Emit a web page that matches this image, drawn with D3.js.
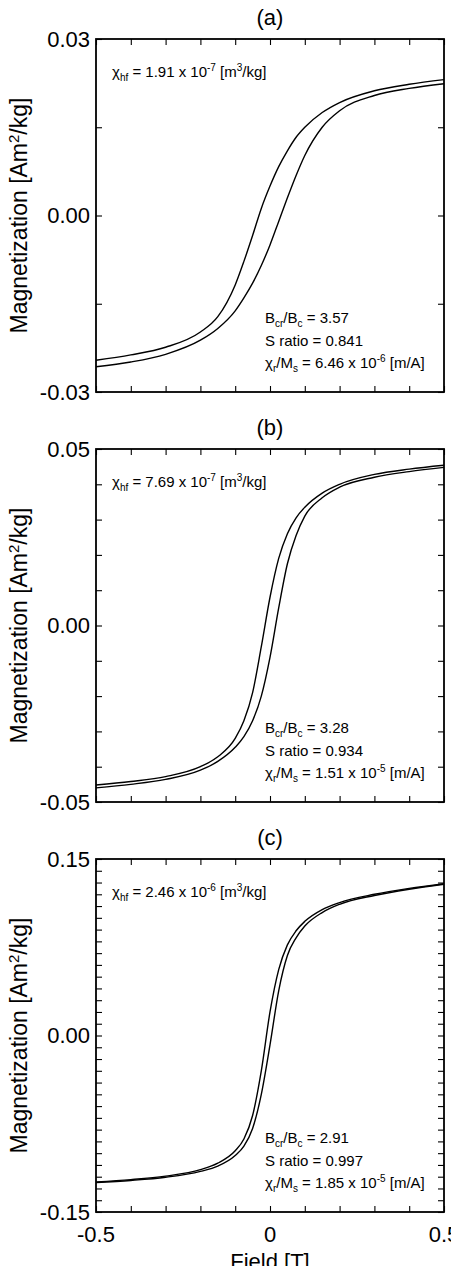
<!DOCTYPE html>
<html>
<head>
<meta charset="utf-8">
<script src="https://cdn.jsdelivr.net/npm/d3@7"></script>
<style>
  html, body { margin: 0; padding: 0; background: #fff; }
  svg { display: block; font-family: "Liberation Sans", Arial, Helvetica, sans-serif; }
</style>
</head>
<body>
<svg id="chart" width="451" height="1266"></svg>
<script>
// ---------------- data ----------------
const fields = [-0.5, -0.4, -0.3, -0.2, -0.15, -0.1, -0.075, -0.05, -0.025, 0, 0.025, 0.05, 0.075, 0.1, 0.15, 0.2, 0.3, 0.4, 0.5];

// panel (a)
const descA = [-0.0246, -0.0237, -0.0224, -0.0198, -0.0172, -0.0118, -0.0078, -0.0034, 0.0012, 0.0050, 0.0083, 0.0110, 0.0133, 0.0150, 0.0175, 0.0192, 0.0212, 0.0223, 0.0231];
const ascA  = [-0.0257, -0.0249, -0.0236, -0.0212, -0.0192, -0.0162, -0.0140, -0.0115, -0.0085, -0.0050, -0.0010, 0.0030, 0.0068, 0.0102, 0.0150, 0.0178, 0.0204, 0.0216, 0.0224];
// panel (b)
const descB = [-0.0452, -0.0442, -0.0428, -0.0400, -0.0372, -0.0320, -0.0270, -0.0190, -0.0060, 0.0080, 0.0190, 0.0260, 0.0305, 0.0335, 0.0375, 0.0400, 0.0428, 0.0443, 0.0454];
const ascB  = [-0.0460, -0.0450, -0.0436, -0.0410, -0.0385, -0.0345, -0.0315, -0.0270, -0.0200, -0.0090, 0.0050, 0.0175, 0.0255, 0.0310, 0.0362, 0.0392, 0.0420, 0.0436, 0.0448];
// panel (c)
const descC = [-0.1245, -0.1225, -0.1195, -0.1140, -0.1085, -0.0980, -0.0880, -0.0680, -0.0300, 0.0200, 0.0560, 0.0770, 0.0890, 0.0970, 0.1070, 0.1130, 0.1200, 0.1250, 0.1290];
const ascC  = [-0.1250, -0.1232, -0.1205, -0.1155, -0.1110, -0.1020, -0.0940, -0.0790, -0.0500, -0.0080, 0.0380, 0.0680, 0.0830, 0.0930, 0.1045, 0.1115, 0.1190, 0.1243, 0.1285];

const panelTitles = ["(a)", "(b)", "(c)"];
const yDomains = [[-0.03, 0.03], [-0.05, 0.05], [-0.15, 0.15]];
const yTickSteps = [0.015, 0.01, 0.01];
const yTickLabels = [["0.03", "0.00", "-0.03"], ["0.05", "0.00", "-0.05"], ["0.15", "0.00", "-0.15"]];
const xDomain = [-0.5, 0.5];
const xTickStep = 0.1;
const xTickLabels = ["-0.5", "0", "0.5"];

const chiHf = ["1.91", "7.69", "2.46"];
const chiHfExp = ["-7", "-7", "-6"];
const bcrBc = ["3.57", "3.28", "2.91"];
const sRatio = ["0.841", "0.934", "0.997"];
const chiRMs = ["6.46", "1.51", "1.85"];
const chiRMsExp = ["-6", "-5", "-5"];

const yLabel = "Magnetization [Am";
const xLabel = "Field [T]";

// ---------------- layout ----------------
const svg = d3.select("#chart");
const left = 96, right = 444;
const tops = [39, 449, 859];
const ph = 353;
const series = [[descA, ascA], [descB, ascB], [descC, ascC]];
const bigFs = 22;

const x = d3.scaleLinear().domain(xDomain).range([left, right]);
const xTicks = d3.range(xDomain[0], xDomain[1] + 1e-9, xTickStep).map(v => +v.toFixed(3));

panelTitles.forEach((title, i) => {
  const top = tops[i], bottom = top + ph;
  const y = d3.scaleLinear().domain(yDomains[i]).range([bottom, top]);
  const [y0, y1] = yDomains[i];
  const yTicks = d3.range(y0, y1 + 1e-9, yTickSteps[i]).map(v => +v.toFixed(4));
  const g = svg.append("g");

  // ticks (inward) on all four sides
  const tick = 6;
  g.append("g").attr("transform", `translate(${left},0)`)
    .call(d3.axisLeft(y).tickValues(yTicks).tickSize(-tick).tickFormat(""))
    .call(a => a.select(".domain").remove());
  g.append("g").attr("transform", `translate(${right},0)`)
    .call(d3.axisRight(y).tickValues(yTicks).tickSize(-tick).tickFormat(""))
    .call(a => a.select(".domain").remove());
  g.append("g").attr("transform", `translate(0,${bottom})`)
    .call(d3.axisBottom(x).tickValues(xTicks).tickSize(-tick).tickFormat(""))
    .call(a => a.select(".domain").remove());
  g.append("g").attr("transform", `translate(0,${top})`)
    .call(d3.axisTop(x).tickValues(xTicks).tickSize(-tick).tickFormat(""))
    .call(a => a.select(".domain").remove());
  g.selectAll(".tick line").attr("stroke", "#000").attr("stroke-width", 1.1);

  // frame
  g.append("rect").attr("x", left).attr("y", top).attr("width", right - left).attr("height", ph)
    .attr("fill", "none").attr("stroke", "#000").attr("stroke-width", 1.8);

  // y tick labels
  const labVals = [y1, 0, y0];
  labVals.forEach((v, k) => {
    g.append("text").attr("x", left - 6).attr("y", y(v)).attr("dy", "0.36em")
      .attr("text-anchor", "end").attr("font-size", bigFs).text(yTickLabels[i][k]);
  });

  // title
  g.append("text").attr("x", (left + right) / 2).attr("y", top - 14)
    .attr("text-anchor", "middle").attr("font-size", bigFs).text(title);

  // y label
  const yl = g.append("text").attr("transform", `translate(27,${(top + bottom) / 2}) rotate(-90)`)
    .attr("text-anchor", "middle").attr("font-size", 23);
  yl.append("tspan").text(yLabel);
  yl.append("tspan").attr("font-size", 15).attr("dy", -8).text("2");
  yl.append("tspan").attr("dy", 8).text("/kg]");

  // curves
  const line = d3.line().x((d, k) => x(fields[k])).y(d => y(d)).curve(d3.curveMonotoneX);
  series[i].forEach(s => {
    g.append("path").datum(s).attr("d", line).attr("fill", "none")
      .attr("stroke", "#000").attr("stroke-width", 1.4);
  });

  // top-left annotation
  const fs = 15, sfs = 10;
  const t1 = g.append("text").attr("x", 112).attr("y", top + 38).attr("font-size", fs);
  t1.append("tspan").text("\u03C7");
  t1.append("tspan").attr("font-size", sfs).attr("dy", 3.5).text("hf");
  t1.append("tspan").attr("dy", -3.5).text(" = " + chiHf[i] + " x 10");
  t1.append("tspan").attr("font-size", sfs).attr("dy", -6).text(chiHfExp[i]);
  t1.append("tspan").attr("dy", 6).text(" [m");
  t1.append("tspan").attr("font-size", sfs).attr("dy", -6).text("3");
  t1.append("tspan").attr("dy", 6).text("/kg]");

  // bottom-right annotations
  const bx = 265;
  const a1 = g.append("text").attr("x", bx).attr("y", bottom - 69).attr("font-size", fs);
  a1.append("tspan").text("B");
  a1.append("tspan").attr("font-size", sfs).attr("dy", 3.5).text("cr");
  a1.append("tspan").attr("dy", -3.5).text("/B");
  a1.append("tspan").attr("font-size", sfs).attr("dy", 3.5).text("c");
  a1.append("tspan").attr("dy", -3.5).text(" = " + bcrBc[i]);

  g.append("text").attr("x", bx).attr("y", bottom - 46).attr("font-size", fs)
    .text("S ratio = " + sRatio[i]);

  const a3 = g.append("text").attr("x", bx).attr("y", bottom - 24).attr("font-size", fs);
  a3.append("tspan").text("\u03C7");
  a3.append("tspan").attr("font-size", sfs).attr("dy", 3.5).text("r");
  a3.append("tspan").attr("dy", -3.5).text("/M");
  a3.append("tspan").attr("font-size", sfs).attr("dy", 3.5).text("s");
  a3.append("tspan").attr("dy", -3.5).text(" = " + chiRMs[i] + " x 10");
  a3.append("tspan").attr("font-size", sfs).attr("dy", -6).text(chiRMsExp[i]);
  a3.append("tspan").attr("dy", 6).text(" [m/A]");

  // x tick labels & x label on last panel
  if (i === panelTitles.length - 1) {
    [-0.5, 0, 0.5].forEach((v, k) => {
      g.append("text").attr("x", x(v)).attr("y", bottom + 30)
        .attr("text-anchor", "middle").attr("font-size", bigFs).text(xTickLabels[k]);
    });
    g.append("text").attr("x", (left + right) / 2).attr("y", bottom + 57)
      .attr("text-anchor", "middle").attr("font-size", bigFs).text(xLabel);
  }
});
</script>
</body>
</html>
